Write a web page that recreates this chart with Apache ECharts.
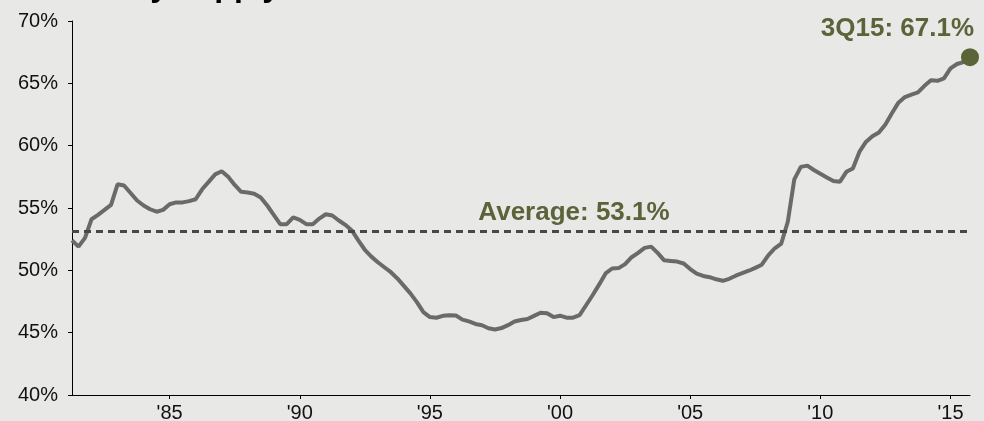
<!DOCTYPE html>
<html>
<head>
<meta charset="utf-8">
<script src="https://cdn.jsdelivr.net/npm/echarts@6/dist/echarts.min.js"></script>
<style>
  html, body { margin: 0; padding: 0; background: #e8e8e7; }
  #chart { width: 984px; height: 421px; }
</style>
</head>
<body>
<div id="chart"></div>
<script>
// quarterly series, 1Q81 .. 3Q15
const firstYear = 1981
const firstQuarter = 1
const shareValues = [
  52.4, 51.9, 52.6, 54.1, 54.45, 54.85, 55.25, 56.9, 56.8, 56.2,
  55.6, 55.2, 54.9, 54.7, 54.85, 55.3, 55.45, 55.45, 55.55, 55.7,
  56.5, 57.1, 57.7, 57.95, 57.5, 56.85, 56.3, 56.25, 56.15, 55.85,
  55.2, 54.45, 53.7, 53.7, 54.25, 54.05, 53.7, 53.7, 54.15, 54.5,
  54.4, 54.0, 53.65, 53.2, 52.4, 51.65, 51.1, 50.65, 50.25, 49.85,
  49.35, 48.75, 48.15, 47.45, 46.65, 46.25, 46.2, 46.35, 46.4, 46.38,
  46.05, 45.9, 45.7, 45.6, 45.35, 45.26, 45.37, 45.6, 45.9, 46.02,
  46.1, 46.35, 46.6, 46.56, 46.25, 46.36, 46.2, 46.2, 46.4, 47.2,
  48.0, 48.85, 49.75, 50.15, 50.18, 50.5, 51.05, 51.4, 51.8, 51.9,
  51.4, 50.8, 50.75, 50.7, 50.55, 50.1, 49.73, 49.55, 49.45, 49.28,
  49.16, 49.32, 49.57, 49.77, 49.97, 50.2, 50.45, 51.2, 51.77, 52.15,
  53.9, 57.3, 58.3, 58.4, 58.05, 57.75, 57.45, 57.17, 57.1, 57.9,
  58.17, 59.5, 60.3, 60.75, 61.05, 61.7, 62.6, 63.45, 63.9, 64.1,
  64.28, 64.8, 65.24, 65.2, 65.4, 66.2, 66.55, 66.7, 67.1
]
const averageShare = 53.1
const xTickYears = [1985, 1990, 1995, 2000, 2005, 2010, 2015]
const titleText = 'Multifamily supply'

const fontName = '"Liberation Sans", Arial, sans-serif'
const olive = '#5b6339'

// quarter labels and quarter-end positions (1Q81 -> 1981.25)
const quarters = shareValues.map((v, i) => {
  let k = firstQuarter - 1 + i
  return (k % 4 + 1) + 'Q' + String(firstYear + Math.floor(k / 4)).slice(2)
})
const quarterEnd = quarters.map(q => {
  let yy = +q.slice(2)
  return (yy < 50 ? 2000 : 1900) + yy + (+q[0]) / 4
})
const lineData = shareValues.map((v, i) => [quarterEnd[i], v])
const last = lineData.length - 1

let myChart = echarts.init(document.getElementById('chart'))
let option = {
  backgroundColor: '#e8e8e7',
  animation: false,
  textStyle: { fontFamily: fontName },
  graphic: [{
    type: 'text',
    x: 1,
    y: 3,
    style: {
      text: titleText,
      font: 'bold 32px ' + fontName,
      fill: '#000',
      verticalAlign: 'bottom'
    }
  }],
  grid: { left: 72, right: 14, top: 21, bottom: 26, outerBoundsMode: 'none', containLabel: false },
  xAxis: {
    type: 'value',
    min: quarterEnd[0],
    max: quarterEnd[last],
    splitLine: { show: false },
    axisLine: { lineStyle: { color: '#000', width: 1 } },
    axisTick: { length: 4, lineStyle: { color: '#000' }, customValues: xTickYears },
    axisLabel: {
      customValues: xTickYears,
      formatter: v => "'" + String(v).slice(2),
      color: '#111',
      fontSize: 20,
      margin: 8
    }
  },
  yAxis: {
    type: 'value',
    min: 40,
    max: 70,
    interval: 5,
    splitLine: { show: false },
    axisLine: { show: true, lineStyle: { color: '#000', width: 1 } },
    axisTick: { show: true, length: 4, lineStyle: { color: '#000' } },
    axisLabel: {
      formatter: '{value}%',
      color: '#111',
      fontSize: 20,
      margin: 14
    }
  },
  series: [
    {
      name: 'share',
      type: 'line',
      data: lineData,
      showSymbol: false,
      symbol: 'none',
      lineStyle: { color: '#6a6a6a', width: 4 },
      z: 3,
      markLine: {
        silent: true,
        symbol: 'none',
        lineStyle: { color: '#4d4648', width: 3, type: [7, 5] },
        label: {
          show: true,
          position: 'insideMiddleTop',
          formatter: 'Average: ' + averageShare.toFixed(1) + '%',
          offset: [53, 0],
          distance: 6,
          color: olive,
          fontSize: 26,
          fontWeight: 'bold'
        },
        data: [{ yAxis: averageShare }]
      }
    },
    {
      name: 'latest',
      type: 'scatter',
      data: [lineData[last]],
      symbolSize: 18,
      clip: false,
      itemStyle: { color: olive, opacity: 1 },
      z: 5,
      label: {
        show: true,
        position: 'top',
        align: 'right',
        offset: [4, 0],
        distance: 6,
        formatter: quarters[last] + ': ' + shareValues[last].toFixed(1) + '%',
        color: olive,
        fontSize: 26,
        fontWeight: 'bold'
      }
    }
  ]
}
myChart.setOption(option)
window.addEventListener('resize', () => { myChart.resize() })
</script>
</body>
</html>
